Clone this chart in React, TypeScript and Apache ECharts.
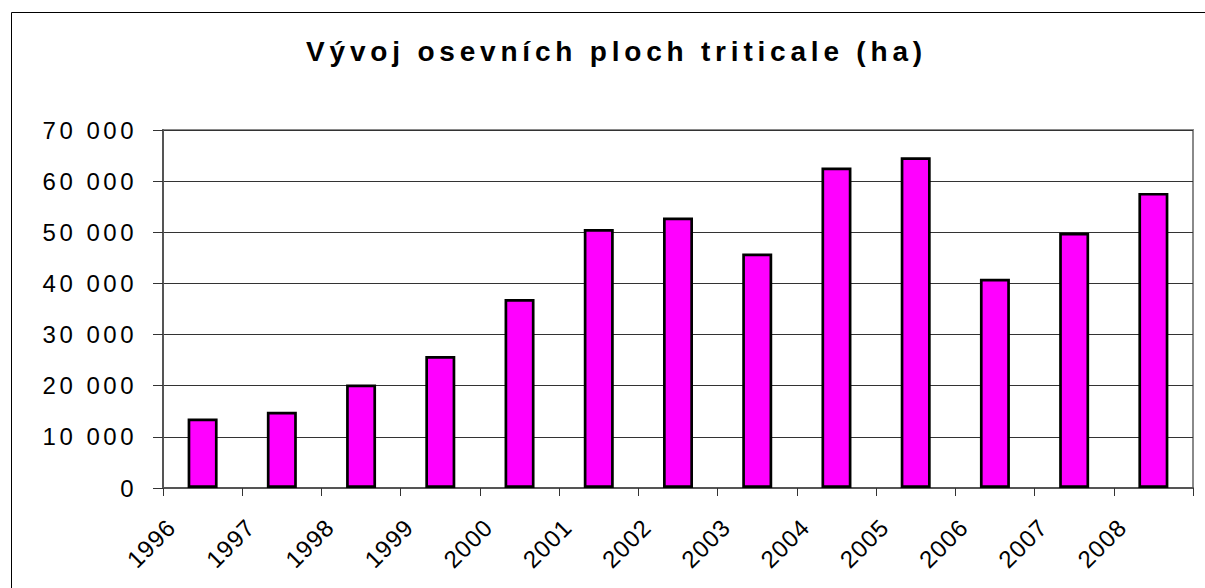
import React, { useEffect, useRef } from "react";
import * as echarts from "echarts";

const TITLE = "Vývoj osevních ploch triticale (ha)";
const years = ["1996", "1997", "1998", "1999", "2000", "2001", "2002", "2003", "2004", "2005", "2006", "2007", "2008"];
const areaHa = [13600, 14900, 20250, 25800, 36950, 50650, 52900, 45850, 62650, 64650, 40900, 49900, 57700];
const yMin = 0;
const yMax = 70000;
const yStep = 10000;
// boundary labels: one per tick between the category slots
const boundaryLabels = [...years, ""];

const FONT = "'Liberation Sans', Arial, Helvetica, sans-serif";

const fmt = (v: number) => String(v).replace(/\B(?=(\d{3})+(?!\d))/g, " ");

export default function App() {
  const ref = useRef<HTMLDivElement>(null);

  useEffect(() => {
    const el = ref.current;
    if (!el) return;
    document.body.style.margin = "0";
    const chart = echarts.init(el, undefined, { renderer: "svg" });

    const gridLeft = 163;
    const gridRight = 12;
    const gridTop = 130;
    const gridBottom = 100;
    const labelShift = 8.5;

    const option: any = {
      animation: false,
      backgroundColor: "#fff",
      tooltip: { show: false },
      graphic: [
        {
          type: "line",
          silent: true,
          z: -10,
          shape: { x1: 11.5, y1: 12.5, x2: 1205, y2: 12.5 },
          style: { stroke: "#000", lineWidth: 1 },
        },
        {
          type: "line",
          silent: true,
          z: -10,
          shape: { x1: 11.5, y1: 12.5, x2: 11.5, y2: 588 },
          style: { stroke: "#000", lineWidth: 1 },
        },
        {
          type: "text",
          silent: true,
          x: 616.5,
          y: 51.5,
          style: {
            text: TITLE,
            align: "center",
            verticalAlign: "middle",
            fill: "#000",
            font: `bold 28px ${FONT}`,
          },
        },
      ],
      grid: [
        {
          left: gridLeft,
          right: gridRight,
          top: gridTop,
          bottom: gridBottom,
          show: true,
          borderColor: "#8a8a8a",
          borderWidth: 2,
          backgroundColor: "transparent",
        },
        {
          left: gridLeft + labelShift,
          right: gridRight - labelShift,
          top: gridTop,
          bottom: gridBottom,
          show: false,
        },
      ],
      xAxis: [
        {
          type: "category",
          gridIndex: 0,
          data: years,
          boundaryGap: true,
          axisLine: { show: true, lineStyle: { color: "#555", width: 2 } },
          axisTick: { show: true, length: 8, interval: 0, alignWithLabel: false, lineStyle: { color: "#333", width: 1 } },
          axisLabel: { show: false },
          splitLine: { show: false },
        },
        {
          type: "category",
          gridIndex: 1,
          data: boundaryLabels,
          boundaryGap: false,
          axisLine: { show: false },
          axisTick: { show: false },
          splitLine: { show: false },
          axisLabel: {
            show: true,
            interval: 0,
            rotate: 45,
            margin: 35,
            color: "#000",
            fontSize: 24,
            fontFamily: FONT,
          },
        },
      ],
      yAxis: [
        {
          type: "value",
          gridIndex: 0,
          min: yMin,
          max: yMax,
          interval: yStep,
          axisLine: { show: true, lineStyle: { color: "#555", width: 2 } },
          axisTick: { show: true, length: 10, lineStyle: { color: "#333", width: 1 } },
          splitLine: { show: true, lineStyle: { color: "#333", width: 1 } },
          axisLabel: {
            show: true,
            margin: 26,
            color: "#000",
            fontSize: 24,
            fontFamily: FONT,
            formatter: (v: number) => fmt(v),
          },
        },
        {
          type: "value",
          gridIndex: 1,
          show: false,
          min: yMin,
          max: yMax,
        },
      ],
      series: [
        {
          type: "bar",
          xAxisIndex: 0,
          yAxisIndex: 0,
          data: areaHa,
          barWidth: 30,
          silent: true,
          itemStyle: { color: "#FF00FF", borderColor: "#000", borderWidth: 2.7 },
        },
      ],
    };

    chart.setOption(option);

    const applySpacing = () => {
      el.querySelectorAll("text").forEach((t) => {
        const s = t.textContent || "";
        if (s === TITLE) t.setAttribute("letter-spacing", "4.8");
        else if (years.includes(s)) t.setAttribute("letter-spacing", "1");
        else t.setAttribute("letter-spacing", "3.5");
      });
    };
    applySpacing();
    chart.on("finished", applySpacing);

    return () => {
      chart.dispose();
    };
  }, []);

  return (
    <div
      ref={ref}
      style={{ position: "fixed", left: 0, top: 0, width: 1205, height: 588, background: "#fff" }}
    />
  );
}
